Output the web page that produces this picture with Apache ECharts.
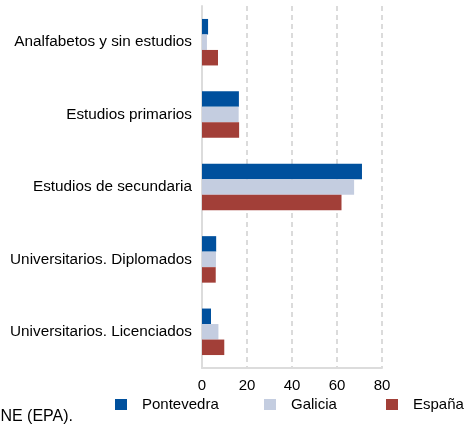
<!DOCTYPE html>
<html>
<head>
<meta charset="utf-8">
<script src="https://cdn.jsdelivr.net/npm/echarts@6/dist/echarts.min.js"></script>
<style>
  html, body { margin: 0; padding: 0; background: #fff; }
  #chart { width: 466px; height: 424px; }
</style>
</head>
<body>
<div id="chart"></div>
<script>
// Nivel de estudios terminados (%)
const categories = [
  'Analfabetos y sin estudios',
  'Estudios primarios',
  'Estudios de secundaria',
  'Universitarios. Diplomados',
  'Universitarios. Licenciados'
];
const pontevedra = [2.7, 16.4, 71.1, 6.3, 4.0];
const galicia = [2.2, 16.3, 67.6, 6.2, 7.3];
const espana = [7.1, 16.5, 62.0, 6.1, 9.9];
const xTicks = [0, 20, 40, 60, 80];

const seriesNames = ['Pontevedra', 'Galicia', 'España'];
const colors = ['#00509d', '#c4cde0', '#a23f38'];
const font = 'Liberation Sans, Arial, sans-serif';

const chart = echarts.init(document.getElementById('chart'), null, { renderer: 'canvas' });

// one legend block per series so each entry sits at its own column
function legendAt(i, left) {
  return {
    data: [seriesNames[i]],
    left: left,
    top: 397,
    padding: 0,
    icon: 'rect',
    itemWidth: 12,
    itemHeight: 11,
    selectedMode: false,
    textStyle: { fontFamily: font, fontSize: 15, color: '#000', padding: [0, 0, 0, 10] }
  };
}

chart.setOption({
  animation: false,
  color: colors,
  grid: { left: 202, right: 84, top: 6, bottom: 56, containLabel: false },
  legend: [legendAt(0, 115), legendAt(1, 264), legendAt(2, 386)],
  xAxis: {
    type: 'value',
    min: xTicks[0],
    max: xTicks[xTicks.length - 1],
    interval: 20,
    axisLine: { show: true, lineStyle: { color: '#dcdcdc', width: 2 } },
    axisTick: { show: false },
    axisLabel: { fontFamily: font, fontSize: 15, color: '#000', margin: 10 },
    splitLine: { show: true, lineStyle: { color: '#cfcfcf', type: [5, 4], width: 1.5 } }
  },
  yAxis: {
    type: 'category',
    data: categories,
    inverse: true,
    axisLine: { show: true, lineStyle: { color: '#dcdcdc', width: 2 } },
    axisTick: { show: false },
    axisLabel: { fontFamily: font, fontSize: 15.3, color: '#000', margin: 10 }
  },
  series: [
    { name: seriesNames[0], type: 'bar', data: pontevedra, barWidth: 15.5, barGap: '0%' },
    { name: seriesNames[1], type: 'bar', data: galicia, barWidth: 15.5, barGap: '0%' },
    { name: seriesNames[2], type: 'bar', data: espana, barWidth: 15.5, barGap: '0%' }
  ],
  graphic: [{
    type: 'text',
    right: 466 - 73,
    top: 409,
    style: { text: 'Fuente: INE (EPA).', fontFamily: font, fontSize: 16, fill: '#000' }
  }]
});
</script>
</body>
</html>
